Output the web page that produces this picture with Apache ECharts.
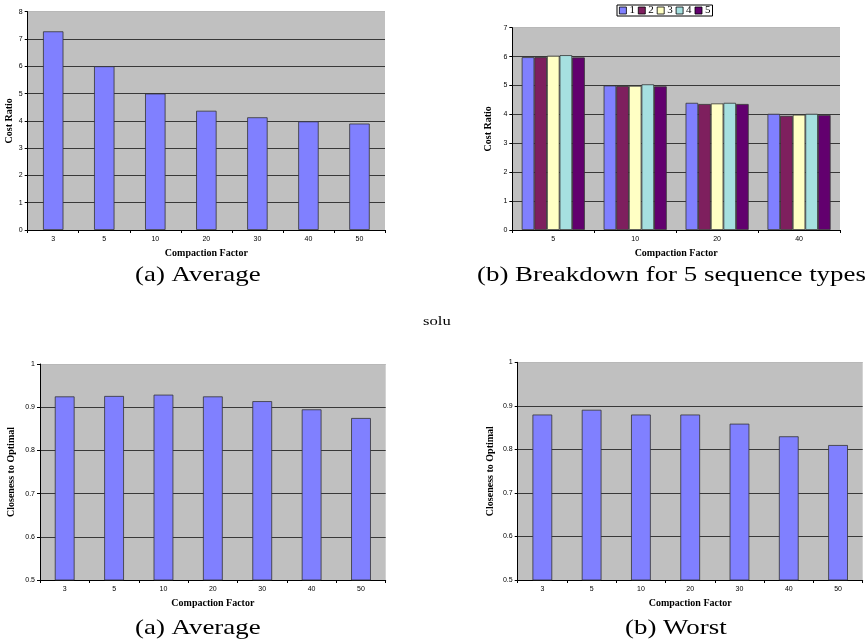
<!DOCTYPE html>
<html><head><meta charset="utf-8">
<script src="https://cdn.jsdelivr.net/npm/echarts@6/dist/echarts.min.js"></script>
<style>html,body{margin:0;padding:0;background:#fff}#c{width:866px;height:641px}</style>
</head><body><div id="c"></div>
<script>
// ---- data ----
const factorsAll = ['3','5','10','20','30','40','50'];
const costAvg = [7.28, 6.0, 5.0, 4.37, 4.13, 3.98, 3.9];
const factorsBreak = ['5','10','20','40'];
const seqNames = ['1','2','3','4','5'];
const seq1 = [5.98, 5.0, 4.40, 4.02];
const seq2 = [5.98, 4.98, 4.36, 3.95];
const seq3 = [6.03, 4.99, 4.38, 3.99];
const seq4 = [6.05, 5.04, 4.40, 4.02];
const seq5 = [5.97, 4.97, 4.36, 3.98];
const closeAvg = [0.925, 0.926, 0.929, 0.925, 0.914, 0.895, 0.875];
const closeWorst = [0.88, 0.891, 0.88, 0.88, 0.859, 0.83, 0.81];

const seqColors = ['#8080FF','#7E1F5E','#FFFFC4','#A6E0E0','#62006E'];
const plotBg = '#C0C0C0';
const labelFont = {fontSize: 7, color: '#000', fontFamily: 'Liberation Sans'};
const nameFont = {fontSize: 10, fontWeight: 'bold', color: '#000', fontFamily: 'Liberation Serif'};

function xAx(idx, cats){
  return {type:'category', gridIndex: idx, data: cats, boundaryGap: true,
    axisLine:{lineStyle:{color:'#000', width:1}},
    axisTick:{show:true, length:3, lineStyle:{color:'#000'}},
    axisLabel:Object.assign({margin:6}, labelFont),
    name:'Compaction Factor', nameLocation:'middle', nameGap:18, nameTextStyle:nameFont};
}
function yAx(idx, min, max, interval, name, gap, nLines, fmt){
  const cols = [];
  for (let i=0;i<nLines;i++) cols.push(i===nLines-1 ? '#B8B8B8' : '#383838');
  return {type:'value', gridIndex: idx, min, max, interval,
    axisLine:{show:true, lineStyle:{color:'#000', width:1}},
    axisTick:{show:true, length:3, lineStyle:{color:'#000'}},
    axisLabel:Object.assign({margin:5, formatter: fmt}, labelFont),
    splitLine:{show:true, lineStyle:{color: cols, width:1}},
    name, nameLocation:'middle', nameGap: gap, nameRotate:90, nameTextStyle:nameFont};
}
const barStyle = c => ({color:c, borderColor:'#333', borderWidth:0.8});

const series = [
  {type:'bar', xAxisIndex:0, yAxisIndex:0, data:costAvg, barCategoryGap:'60%', itemStyle:barStyle('#8080FF'), silent:true},
];
const seqData = [seq1, seq2, seq3, seq4, seq5];
seqData.forEach((d,i)=>{
  series.push({type:'bar', name:seqNames[i], xAxisIndex:1, yAxisIndex:1, data:d,
    barGap:'0%', barCategoryGap:'23%', itemStyle:barStyle(seqColors[i]), silent:true});
});
series.push({type:'bar', xAxisIndex:2, yAxisIndex:2, data:closeAvg, barCategoryGap:'60%', itemStyle:barStyle('#8080FF'), silent:true});
series.push({type:'bar', xAxisIndex:3, yAxisIndex:3, data:closeWorst, barCategoryGap:'60%', itemStyle:barStyle('#8080FF'), silent:true});

const fmt1 = v => (v===1 ? '1' : (v===0.5||v===0.6||v===0.7||v===0.8||v===0.9) ? v.toFixed(1) : String(v));

const capFont = {fontFamily:'Liberation Serif', fontSize:21, fill:'#000'};
const cap = (text, x, y, size) => ({type:'text', x, y, scaleX:1.28, scaleY:1,
  style:Object.assign({text, textVerticalAlign:'top'}, capFont, size ? {fontSize:size} : {})});
const option = {
  animation:false,
  backgroundColor:'#fff',
  grid:[
    {left:27.7, top:11.7, width:357.3, height:218.3, show:true, backgroundColor:plotBg, borderWidth:0},
    {left:512.3, top:27.7, width:327.7, height:202.3, show:true, backgroundColor:plotBg, borderWidth:0},
    {left:40, top:364, width:345.7, height:216, show:true, backgroundColor:plotBg, borderWidth:0},
    {left:517.7, top:362.3, width:345, height:217.7, show:true, backgroundColor:plotBg, borderWidth:0}
  ],
  xAxis:[xAx(0,factorsAll), xAx(1,factorsBreak), xAx(2,factorsAll), xAx(3,factorsAll)],
  yAxis:[
    yAx(0,0,8,1,'Cost Ratio',12,9),
    yAx(1,0,7,1,'Cost Ratio',19,8),
    yAx(2,0.5,1,0.1,'Closeness to Optimal',24,6,fmt1),
    yAx(3,0.5,1,0.1,'Closeness to Optimal',22,6,fmt1)
  ],
  legend:{data:seqNames, left:617, top:5, orient:'horizontal', icon:'rect', itemWidth:7, itemHeight:7, itemGap:3,
    borderColor:'#000', borderWidth:1, padding:[0,2,0,2],
    textStyle:{fontSize:11, fontFamily:'Liberation Serif', color:'#000', padding:[0,0,0,-2]},
    itemStyle:{borderColor:'#000', borderWidth:0.8}, selectedMode:false},
  series,
  graphic:[
    cap('(a) Average', 135, 265),
    cap('(b) Breakdown for 5 sequence types', 477, 265),
    cap('solu', 423, 315, 13),
    cap('(a) Average', 135, 618),
    cap('(b) Worst', 625, 618)
  ]
};
const chart = echarts.init(document.getElementById('c'), null, {renderer:'canvas'});
chart.setOption(option);
</script></body></html>
